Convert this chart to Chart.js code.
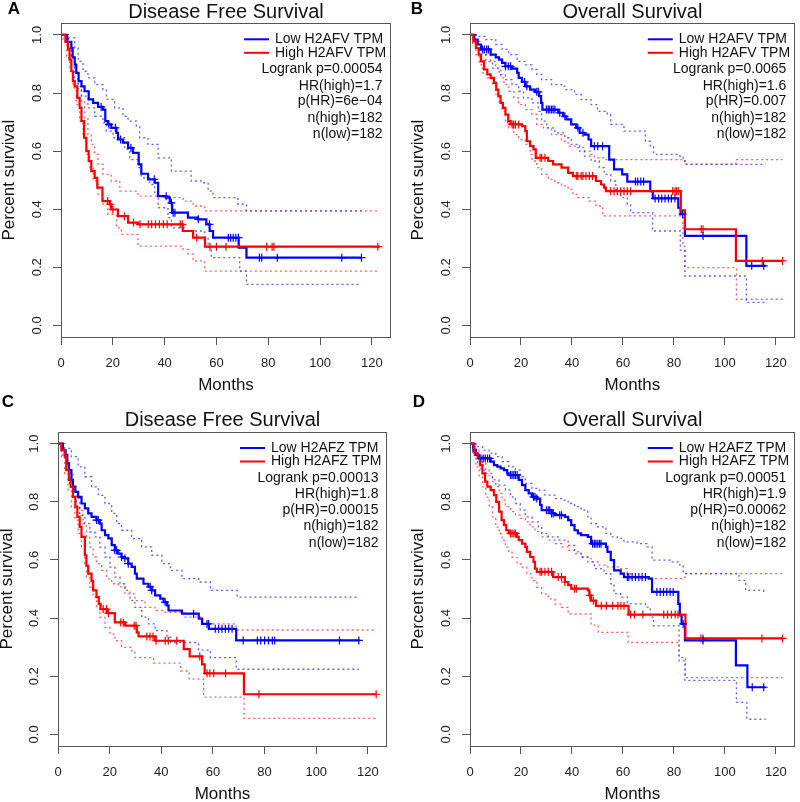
<!DOCTYPE html>
<html>
<head>
<meta charset="utf-8">
<script src="https://cdn.jsdelivr.net/npm/chart.js@4"></script>
<style>
html,body{margin:0;padding:0;background:#fff;}
#wrap{position:relative;width:800px;height:802px;}
#wrap canvas{position:absolute;left:0;top:0;}
</style>
</head>
<body>
<div id="wrap">
<canvas id="cA" width="800" height="802"></canvas>
<canvas id="cB" width="800" height="802"></canvas>
<canvas id="cC" width="800" height="802"></canvas>
<canvas id="cD" width="800" height="802"></canvas>
</div>
<script>
// ---------- axis ticks ----------
const xTicks = [0, 20, 40, 60, 80, 100, 120];
const yTicks = [0, 0.2, 0.4, 0.6, 0.8, 1.0];

// ---------- Panel A : Disease Free Survival, H2AFV ----------
const A_low = [[0,1],[2.4,.976],[4.0,.955],[4.5,.923],[5.3,.898],[5.9,.869],[6.8,.841],[7.9,.823],[9.1,.806],[10.7,.778],[12.4,.766],[14.3,.752],[16.2,.743],[17.1,.703],[18.1,.692],[19.4,.680],[21.4,.663],[22.0,.640],[23.9,.629],[25.9,.611],[27.8,.594],[30.0,.554],[31.0,.522],[33.6,.503],[36.2,.491],[37.5,.445],[40.7,.440],[42.0,.422],[42.9,.388],[49.0,.371],[52.9,.365],[56.1,.348],[57.4,.325],[58.7,.302],[68.6,.268],[71.6,.233],[116,.233]];
const A_high = [[0,1],[1.7,.976],[2.7,.950],[3.3,.915],[4.0,.875],[4.6,.841],[5.3,.823],[6.3,.783],[7.2,.749],[7.9,.703],[8.9,.646],[9.8,.600],[10.7,.566],[11.7,.531],[13.0,.508],[14.0,.474],[16.0,.428],[18.8,.417],[19.4,.399],[22.0,.376],[25.9,.354],[29.7,.348],[47.0,.325],[51.0,.302],[55.6,.271],[123,.271]];
const A_lowUp = [[0,1],[2.7,.990],[5.3,.955],[6.6,.909],[8.5,.875],[10.4,.852],[13.0,.829],[16.2,.812],[17.5,.778],[20.7,.749],[23.9,.720],[25.9,.703],[29.1,.686],[30.4,.646],[33.6,.623],[37.5,.577],[42.6,.531],[50.3,.497],[54.8,.491],[56.8,.462],[58.7,.440],[68.3,.417],[71.6,.394],[116,.394]];
const A_lowLo = [[0,1],[1.4,1],[2.7,.955],[4.0,.909],[5.3,.852],[6.6,.812],[7.9,.789],[10.4,.749],[13.0,.720],[16.2,.697],[17.5,.669],[20.1,.646],[24.6,.606],[26.5,.571],[29.7,.543],[31.0,.508],[34.2,.485],[36.2,.451],[37.5,.405],[41.3,.371],[42.6,.336],[47.7,.325],[55.5,.302],[56.8,.268],[58.0,.233],[69.0,.187],[71.6,.141],[116,.141]];
const A_highUp = [[0,1],[1.4,1],[2.7,.967],[4.0,.921],[5.3,.875],[6.6,.823],[7.9,.772],[9.1,.715],[10.4,.657],[11.7,.623],[13.0,.589],[14.3,.554],[16.2,.520],[19.4,.497],[22.7,.462],[29.7,.445],[38.7,.440],[47.1,.428],[51.0,.411],[55.5,.394],[123,.394]];
const A_highLo = [[0,1],[0.8,.978],[2.1,.921],[3.3,.875],[4.6,.818],[5.9,.760],[7.2,.703],[8.5,.646],[9.8,.589],[11.1,.543],[12.4,.497],[14.3,.451],[16.2,.417],[18.1,.382],[21.4,.336],[23.3,.313],[29.7,.273],[47.1,.262],[49.0,.245],[51.0,.222],[55.5,.187],[123,.187]];
const A_lowCens = [15.5,18.5,21,23,27,36,40.6,42.6,43.3,44,53,57.3,64.6,65.5,66.5,67.5,68.5,76.6,77.5,83.5,108.4,116];
const A_highCens = [18,19,20,24.5,28,30.5,33.7,35,36.5,38,39.5,41,46,46.8,52.4,57.5,60,63.7,79.4,81.5,82.2,122.3];
const A_stats = ["Logrank p=0.00054","HR(high)=1.7","p(HR)=6e\u221204","n(high)=182","n(low)=182"];

// ---------- Panel B : Overall Survival, H2AFV ----------
const B_low = [[0,1],[1.7,.984],[3.0,.967],[4.3,.950],[8.1,.932],[10.1,.923],[11.4,.915],[12.6,.904],[13.9,.892],[16.5,.884],[18.5,.869],[19.1,.852],[20.4,.838],[21.7,.823],[23.6,.812],[25.5,.804],[27.1,.789],[27.9,.766],[28.4,.743],[34.6,.732],[36.5,.720],[37.8,.709],[39.7,.692],[41.7,.680],[43.0,.663],[44.9,.657],[46.5,.640],[47.5,.617],[54.6,.571],[56.5,.537],[59.7,.520],[61.7,.495],[70.7,.462],[71.7,.437],[81.7,.405],[82.6,.383],[84.3,.308],[108.4,.205],[116,.205]];
const B_high = [[0,1],[1.3,.978],[2.3,.955],[3.4,.932],[4.3,.909],[5.5,.881],[6.8,.864],[8.1,.852],[9.4,.835],[10.3,.812],[11.1,.789],[12.0,.766],[12.9,.749],[13.9,.726],[15.0,.703],[15.9,.692],[20.4,.686],[21.7,.669],[22.3,.634],[23.6,.617],[24.9,.606],[25.8,.577],[30.7,.566],[32.6,.554],[35.9,.543],[38.5,.525],[40.4,.514],[49.4,.497],[51.4,.485],[52.6,.474],[53.3,.462],[82.7,.396],[84.3,.331],[104.3,.222],[122.6,.222]];
const B_lowUp = [[0,1],[3.6,.995],[6.2,.984],[10.1,.967],[12.6,.950],[15.2,.932],[18.5,.909],[21.7,.897],[24.3,.881],[26.2,.864],[28.1,.846],[32,.829],[35.9,.823],[37.2,.812],[41,.795],[43.6,.777],[47.5,.760],[50,.737],[53.9,.726],[55.2,.692],[60.4,.669],[68.8,.634],[70.7,.617],[72,.589],[82.3,.583],[83.6,.566],[84.3,.554],[116,.554]];
const B_lowLo = [[0,1],[1.7,1],[2.3,.955],[4.3,.932],[6.2,.909],[8.8,.886],[11.4,.864],[13.9,.846],[16.5,.829],[19.1,.806],[21,.783],[24.3,.766],[26.8,.737],[28.1,.703],[30.1,.680],[33.3,.663],[37.2,.646],[39.7,.623],[43,.600],[44.9,.583],[47.5,.566],[50.7,.543],[52.6,.520],[55.2,.497],[57.2,.468],[59.1,.440],[61.7,.417],[63,.388],[71.6,.325],[82.5,.259],[84.3,.17],[108.4,.079],[116,.079]];
const B_highUp = [[0,1],[2.3,.978],[4.3,.955],[6.2,.932],[8.1,.909],[10.1,.886],[12,.852],[13.3,.829],[15.2,.806],[17.2,.783],[19.1,.760],[21.7,.743],[24.3,.726],[26.2,.692],[28.8,.680],[32,.657],[35.9,.634],[38.5,.617],[42.3,.612],[44.9,.600],[47.5,.589],[48.8,.577],[52.6,.571],[84.3,.555],[104.3,.571],[122.6,.571]];
const B_highLo = [[0,1],[1,.967],[2.3,.932],[3.6,.898],[4.9,.869],[6.8,.852],[8.8,.829],[10.1,.795],[11.4,.766],[12.6,.737],[13.9,.697],[15.2,.680],[17.2,.657],[19.1,.640],[21.7,.623],[23.6,.589],[24.3,.566],[26.2,.543],[28.1,.520],[30.7,.503],[33.3,.491],[35.9,.480],[38.5,.468],[40.4,.451],[42.3,.440],[46.8,.428],[49.4,.411],[52,.382],[52.6,.377],[82.2,.377],[83.5,.273],[84.3,.199],[104.5,.09],[122.6,.09]];
const B_lowCens = [4.9,5.6,6.5,7.2,13.9,15,15.9,21.4,22.3,26.2,26.8,30,30.7,31.3,32,32.6,33.3,35.2,37.2,42.3,44.3,48.8,50.1,52,64.9,65.8,67,68.1,72.6,74,75.2,76.5,77.8,79,80.4,83.4,91.4,110.5,115.2];
const B_highCens = [16.5,17.1,17.8,19.1,27.5,28.1,29.4,41.7,42.3,43.6,44.3,45.5,46.8,48.1,55.2,56.5,57.8,59.1,60.4,61.7,63,79.5,80.4,81,81.7,90.7,91.4,114.6,122.6];
const B_stats = ["Logrank p=0.0065","HR(high)=1.6","p(HR)=0.007","n(high)=182","n(low)=182"];

// ---------- Panel C : Disease Free Survival, H2AFZ ----------
const C_low = [[0,1],[1.9,.978],[2.9,.961],[3.6,.932],[4.2,.909],[5.2,.875],[5.8,.852],[6.7,.834],[7.8,.817],[9.1,.794],[10.4,.777],[11.7,.760],[13,.748],[14.9,.737],[16.2,.725],[16.9,.702],[18.2,.685],[19.5,.674],[20.8,.651],[22,.633],[23.3,.622],[24.6,.610],[25.9,.605],[27.2,.587],[28.5,.576],[29.8,.553],[30.5,.536],[33.1,.518],[35,.507],[36.3,.495],[37.6,.478],[39.6,.467],[40.9,.455],[42.2,.444],[42.8,.426],[48,.415],[54.5,.398],[55.8,.380],[58.4,.363],[69,.323],[116.7,.323]];
const C_high = [[0,1],[1.3,.978],[2.6,.955],[3.2,.909],[4.2,.875],[4.9,.851],[5.8,.817],[6.7,.783],[7.5,.748],[8.4,.714],[9.1,.679],[10.4,.616],[11.0,.58],[11.7,.553],[13.0,.528],[13.6,.495],[14.9,.472],[15.8,.449],[16.5,.431],[18.9,.417],[22,.385],[26,.374],[30.5,.351],[31.2,.337],[37.6,.322],[48.7,.293],[51,.268],[55.8,.241],[56.8,.21],[72,.138],[123.2,.138]];
const C_lowUp = [[0,1],[2.6,.984],[5.2,.955],[7.8,.920],[10.4,.886],[13,.851],[15.6,.822],[18.2,.794],[20.8,.760],[22.7,.725],[24.6,.702],[28.5,.673],[32.4,.645],[36.3,.616],[40.2,.587],[43.5,.564],[48,.536],[54.5,.524],[59,.495],[69.4,.472],[116.7,.472]];
const C_lowLo = [[0,1],[1.3,1],[1.9,.955],[3.2,.909],[4.5,.863],[5.8,.817],[7.1,.782],[8.4,.753],[10.4,.725],[12.3,.696],[14.3,.679],[16.2,.644],[18.2,.610],[20.1,.575],[22,.541],[24,.518],[25.9,.495],[27.9,.461],[29.8,.437],[32.4,.403],[35,.380],[37.6,.357],[42.2,.334],[43.6,.316],[54.4,.29],[59,.264],[69,.224],[116.5,.224]];
const C_highUp = [[0,1],[1.9,.978],[3.2,.943],[4.5,.897],[5.8,.851],[7.1,.811],[8.4,.770],[9.7,.725],[11,.679],[12.3,.644],[13.6,.610],[14.9,.587],[16.9,.564],[18.8,.535],[20.8,.518],[23.3,.507],[25.9,.483],[29.8,.460],[33.7,.437],[37.6,.426],[41.5,.420],[48.7,.403],[56,.38],[69,.359],[123.2,.359]];
const C_highLo = [[0,1],[0.3,.99],[1.3,.955],[2.6,.897],[3.9,.84],[5.2,.782],[6.5,.737],[7.8,.691],[9.1,.644],[10.4,.587],[11,.541],[12.3,.506],[13.6,.472],[14.9,.437],[16.2,.403],[18.2,.368],[20.1,.345],[22,.322],[24.6,.299],[28.5,.287],[29.8,.264],[37,.245],[47.5,.218],[50.8,.19],[56.4,.128],[72,.055],[123.2,.055]];
const C_lowCens = [14.9,15.6,22,22.7,24.6,25.9,27.2,35.7,36.3,41.5,52.5,57.7,58.3,60.9,62.2,63.5,64.8,66.1,67.4,71.7,77.2,78.5,80,81.5,83,83.9,109,116.5];
const C_highCens = [17.5,18.8,19.5,24.3,25.3,29.5,30.2,34.4,35.6,36.8,38,41.5,42.7,46,54.9,57.7,58.8,60.3,64.9,77.8,123.2];
const C_stats = ["Logrank p=0.00013","HR(high)=1.8","p(HR)=0.00015","n(high)=182","n(low)=182"];

// ---------- Panel D : Overall Survival, H2AFZ ----------
const D_low = [[0,1],[1.3,.978],[2.3,.961],[3.6,.949],[8.1,.938],[9.4,.926],[10.7,.921],[12,.915],[13.3,.909],[14.6,.898],[15.2,.892],[19.1,.875],[20.4,.857],[21.7,.840],[23,.829],[24.3,.817],[26.2,.811],[27.5,.789],[28.1,.771],[32,.760],[33.3,.754],[37.2,.748],[38.5,.737],[39.7,.720],[41,.702],[42.3,.691],[43.6,.685],[46.2,.679],[47.5,.656],[53.3,.645],[53.9,.628],[55.2,.599],[56.5,.564],[59.1,.553],[60.4,.541],[70.1,.536],[71.4,.490],[81.7,.449],[82.3,.409],[83,.380],[84.3,.323],[104.3,.237],[108.8,.162],[115.9,.162]];
const D_high = [[0,1],[1.7,.967],[3,.949],[3.9,.926],[4.9,.898],[5.9,.869],[6.8,.852],[8.1,.840],[9.4,.823],[10.3,.800],[11.4,.766],[12.4,.737],[13.3,.720],[14.2,.702],[15.2,.691],[18.5,.679],[19.1,.668],[20.4,.656],[21.7,.645],[22.3,.628],[23.6,.610],[24.9,.593],[25.5,.570],[26.2,.559],[32.6,.541],[37.2,.524],[38.5,.513],[39.7,.501],[46.2,.495],[46.8,.478],[47.5,.46],[49.4,.442],[62.2,.412],[84.5,.330],[122.6,.330]];
const D_lowUp = [[0,1],[2.3,.990],[4.9,.978],[7.5,.967],[10.1,.955],[12.6,.938],[15.2,.920],[17.8,.909],[19.7,.886],[21.7,.863],[24.3,.846],[26.2,.840],[29.4,.823],[33.3,.811],[35.9,.806],[38.5,.794],[41,.783],[43.6,.771],[46.2,.748],[47.5,.725],[50.1,.714],[53.3,.691],[55.2,.679],[57.8,.674],[60.4,.662],[65.5,.656],[69.4,.645],[71.4,.599],[78.5,.593],[82.3,.582],[83.6,.553],[104.3,.553],[105.5,.530],[108.1,.495],[115.2,.489]];
const D_lowLo = [[0,1],[1,1],[1.7,.955],[3,.932],[4.3,.909],[6.2,.898],[8.8,.875],[11.4,.857],[13.9,.840],[15.9,.817],[17.8,.794],[19.7,.771],[21.7,.748],[24.3,.731],[26.8,.714],[28.1,.691],[30.7,.679],[34.6,.668],[38.5,.650],[41,.628],[43.6,.610],[46.2,.593],[48.8,.570],[52.6,.553],[55.2,.518],[56.5,.484],[59.1,.472],[61.7,.449],[68.8,.438],[70.7,.403],[72,.373],[82,.253],[84.3,.186],[104.5,.11],[108.6,.052],[116,.052]];
const D_highUp = [[0,1],[2.3,.978],[3.6,.955],[4.9,.932],[6.2,.909],[7.5,.886],[8.8,.869],[10.1,.852],[11.4,.829],[12.6,.806],[13.9,.783],[15.9,.766],[17.8,.754],[19.7,.743],[21.7,.731],[23.6,.714],[25.5,.697],[28.1,.679],[30.7,.668],[33.3,.656],[35.9,.645],[38.5,.633],[41,.622],[43.6,.610],[46.2,.605],[47.5,.593],[50.1,.582],[53.9,.576],[59.1,.570],[61.7,.553],[63,.536],[84.3,.553],[122.6,.553]];
const D_highLo = [[0,1],[1,.967],[2.3,.92],[3.6,.885],[4.9,.851],[6.2,.816],[7.5,.782],[8.8,.748],[10.1,.713],[11.4,.690],[12.6,.667],[13.9,.644],[15.2,.627],[16.5,.609],[18.5,.586],[20.4,.575],[22.3,.552],[24.3,.529],[26.2,.506],[28.1,.483],[30.7,.466],[33.3,.448],[35.9,.437],[38.5,.414],[47.5,.376],[50.3,.351],[62,.316],[82,.265],[84.5,.195],[122.6,.195]];
const D_lowCens = [4.3,5.2,6,6.9,7.7,15.9,16.5,17.2,17.8,18.5,24.9,25.5,26.2,30,30.7,31.3,32,32.6,35.2,35.9,48.1,48.8,49.4,50.1,50.8,51.4,61.7,62.3,63.6,64.9,66.2,67.5,68.8,73.3,74.6,75.9,77.2,78.5,79.7,83.6,91.4,110.7,115.2];
const D_highCens = [15.9,16.5,17.2,17.8,27.5,28.1,29.4,30.7,32,34.6,35.9,37.2,41,41.7,47,48.4,51.5,53.5,56,58,59.2,60.4,63,64.5,67.8,76,77.5,79,80.5,81.6,90.6,91.4,114.5,122.6];
const D_stats = ["Logrank p=0.00051","HR(high)=1.9","p(HR)=0.00062","n(high)=182","n(low)=182"];

// ---------- styling & layout ----------
const FONT = "'Liberation Sans', Arial, Helvetica, sans-serif";
const BLUE = '#0000ff', RED = '#ff0000';
const BLUE_CI = 'rgba(40,40,255,0.75)', RED_CI = 'rgba(255,40,40,0.75)';
const TITLE_SIZE = 20, TITLE_HALF = TITLE_SIZE * 1.2 / 2;

function toXY(arr){ return arr.map(p => ({x:p[0], y:p[1]})); }
function survAt(curve, t){ let s = curve[0][1]; for (const p of curve){ if (p[0] <= t) s = p[1]; else break; } return s; }
function censXY(curve, times){ return times.map(t => ({x:t, y:survAt(curve, t)})); }

const decor = {
  id: 'decor',
  afterDraw(chart, args, o){
    const ctx = chart.ctx, a = chart.chartArea;
    ctx.save();
    ctx.strokeStyle = '#555'; ctx.lineWidth = 1;
    ctx.strokeRect(Math.round(a.left)+0.5, Math.round(a.top)+0.5, Math.round(a.right-a.left)-1, Math.round(a.bottom-a.top));
    ctx.fillStyle = '#000'; ctx.font = 'bold 17px ' + FONT;
    ctx.textAlign = 'center'; ctx.textBaseline = 'middle';
    ctx.fillText(o.letter, o.lx, o.ly);
    ctx.font = '14px ' + FONT; ctx.fillStyle = '#111';
    const r = a.right, t = a.top;
    ctx.lineWidth = 2;
    ctx.strokeStyle = BLUE; ctx.beginPath(); ctx.moveTo(r-147, t+16); ctx.lineTo(r-122, t+16); ctx.stroke();
    ctx.strokeStyle = RED; ctx.beginPath(); ctx.moveTo(r-147, t+29.5); ctx.lineTo(r-122, t+29.5); ctx.stroke();
    ctx.textAlign = 'left';
    ctx.fillText(o.lowLabel, r-116, t+16);
    ctx.fillText(o.highLabel, r-116, t+29.5);
    ctx.textAlign = 'right';
    const ys = [46.3, 62.5, 78.2, 94.6, 111];
    o.stats.forEach((s,i) => ctx.fillText(s, r-8.5, t+ys[i]));
    ctx.restore();
  }
};

function makePanel(id, c){
  const datasets = [
    {data: censXY(c.low, c.lowCens), showLine:false, pointStyle:'cross', pointRadius:4, borderColor:BLUE, borderWidth:1.2},
    {data: censXY(c.high, c.highCens), showLine:false, pointStyle:'cross', pointRadius:4, borderColor:RED, borderWidth:1.2},
    {data: toXY(c.high), borderColor:RED, borderWidth:2.2, stepped:true, pointRadius:0},
    {data: toXY(c.low), borderColor:BLUE, borderWidth:2.2, stepped:true, pointRadius:0},
    {data: toXY(c.lowUp), borderColor:BLUE_CI, borderWidth:1.3, borderDash:[2,3], stepped:true, pointRadius:0},
    {data: toXY(c.lowLo), borderColor:BLUE_CI, borderWidth:1.3, borderDash:[2,3], stepped:true, pointRadius:0},
    {data: toXY(c.highUp), borderColor:RED_CI, borderWidth:1.3, borderDash:[2,3], stepped:true, pointRadius:0},
    {data: toXY(c.highLo), borderColor:RED_CI, borderWidth:1.3, borderDash:[2,3], stepped:true, pointRadius:0}
  ];
  new Chart(document.getElementById(id), {
    type: 'line',
    data: {datasets},
    plugins: [decor],
    options: {
      responsive:false, animation:false, events:[],
      layout: {padding: {left: c.L - c.yW, right: 800 - c.R, top: Math.max(0, c.titleC - TITLE_HALF), bottom: 802 - c.B - c.xH}},
      plugins: {
        legend: {display:false}, tooltip: {enabled:false},
        title: {display:true, text:c.title, fullSize:false, color:'#111',
                font:{family:FONT, size:TITLE_SIZE, weight:'normal', lineHeight:1.2},
                padding:{top:0, bottom: c.T - Math.max(0, c.titleC - TITLE_HALF) - 2*TITLE_HALF}},
        decor: {letter:c.letter, lx:c.lx, ly:c.ly, lowLabel:c.lowLabel, highLabel:c.highLabel, stats:c.stats}
      },
      scales: {
        x: {type:'linear', min:0, max:127.4,
            afterBuildTicks: s => { s.ticks = xTicks.map(v => ({value:v})); },
            afterFit: s => { s.height = c.xH; },
            grid: {drawOnChartArea:false, drawTicks:true, tickLength:8, color:'#555'},
            border: {display:false},
            ticks: {autoSkip:false, maxRotation:0, padding:11, color:'#222', font:{family:FONT, size:13}, callback: v => String(v)},
            title: {display:true, text:'Months', color:'#111', font:{family:FONT, size:17}, padding:{top:0, bottom:c.xTP}}},
        y: {type:'linear', min:-0.04, max:1.04,
            afterBuildTicks: s => { s.ticks = yTicks.map(v => ({value:v})); },
            afterFit: s => { s.width = c.yW; },
            grid: {drawOnChartArea:false, drawTicks:true, tickLength:8, color:'#555'},
            border: {display:false},
            ticks: {autoSkip:false, minRotation:90, maxRotation:90, crossAlign:'center', padding:7, color:'#222', font:{family:FONT, size:13}, callback: v => v.toFixed(1)},
            title: {display:true, text:'Percent survival', color:'#111', font:{family:FONT, size:17}, padding:{top:c.yTP, bottom:0}}}
      }
    }
  });
}

makePanel('cA', {L:61, T:23.3, R:391, B:337, titleC:12, xH:60, yW:61, xTP:1.3, yTP:-1,
  title:'Disease Free Survival', letter:'A', lx:14, ly:9, lowLabel:'Low H2AFV TPM', highLabel:'High H2AFV TPM', stats:A_stats,
  low:A_low, high:A_high, lowUp:A_lowUp, lowLo:A_lowLo, highUp:A_highUp, highLo:A_highLo, lowCens:A_lowCens, highCens:A_highCens});
makePanel('cB', {L:470, T:23.3, R:799, B:337, titleC:12, xH:60, yW:61, xTP:1.3, yTP:-1,
  title:'Overall Survival', letter:'B', lx:417, ly:9, lowLabel:'Low H2AFV TPM', highLabel:'High H2AFV TPM', stats:B_stats,
  low:B_low, high:B_high, lowUp:B_lowUp, lowLo:B_lowLo, highUp:B_highUp, highLo:B_highLo, lowCens:B_lowCens, highCens:B_highCens});
makePanel('cC', {L:58, T:432, R:387, B:746, titleC:420, xH:56, yW:58, xTP:-2.5, yTP:-3,
  title:'Disease Free Survival', letter:'C', lx:8, ly:402, lowLabel:'Low H2AFZ TPM', highLabel:'High H2AFZ TPM', stats:C_stats,
  low:C_low, high:C_high, lowUp:C_lowUp, lowLo:C_lowLo, highUp:C_highUp, highLo:C_highLo, lowCens:C_lowCens, highCens:C_highCens});
makePanel('cD', {L:470, T:432, R:799, B:746, titleC:420, xH:56, yW:61, xTP:-2.5, yTP:-1,
  title:'Overall Survival', letter:'D', lx:419, ly:402, lowLabel:'Low H2AFZ TPM', highLabel:'High H2AFZ TPM', stats:D_stats,
  low:D_low, high:D_high, lowUp:D_lowUp, lowLo:D_lowLo, highUp:D_highUp, highLo:D_highLo, lowCens:D_lowCens, highCens:D_highCens});
</script>
</body>
</html>
